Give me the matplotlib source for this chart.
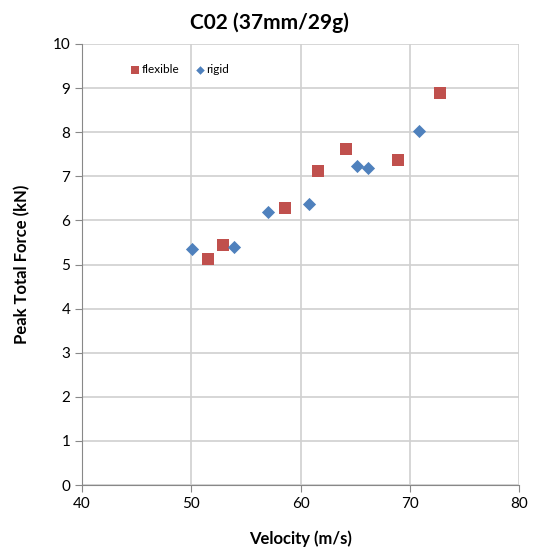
import matplotlib
matplotlib.use("Agg")
import matplotlib.pyplot as plt

plt.rcParams['font.family'] = ['Lato', 'DejaVu Sans']

flex_v = [51.5, 52.9, 58.6, 61.6, 64.2, 68.9, 72.8]
flex_f = [5.12, 5.45, 6.28, 7.12, 7.62, 7.36, 8.88]
rigid_v = [50.1, 53.9, 57.05, 60.8, 65.2, 66.2, 70.8]
rigid_f = [5.36, 5.40, 6.20, 6.38, 7.23, 7.19, 8.02]

fig = plt.figure(figsize=(5.34, 5.5), dpi=100)
ax = fig.add_axes([0.1536, 0.118, 0.8184, 0.802])

ax.scatter(flex_v, flex_f, marker='s', s=75, color='#C0504D', label='flexible', zorder=3, linewidths=0)
ax.scatter(rigid_v, rigid_f, marker='D', s=45, color='#4F81BD', label='rigid', zorder=3, linewidths=0)

ax.set_xlim(40, 80)
ax.set_ylim(0, 10)
ax.set_xticks(range(40, 81, 10))
ax.set_yticks(range(0, 11, 1))
ax.grid(True, color='#D0D0D0', linewidth=1.2)
ax.set_axisbelow(True)
for s in ['top', 'right']:
    ax.spines[s].set_visible(False)
for s in ['left', 'bottom']:
    ax.spines[s].set_color('#888888')
ax.tick_params(colors='#888888', labelcolor='black', labelsize=11, length=5)

fig.text(0.505, 0.958, 'C02 (37mm/29g)', ha='center', va='center', fontsize=15, fontweight='bold')
ax.set_xlabel('Velocity (m/s)', fontsize=12, fontweight='bold', labelpad=14)
ax.set_ylabel('Peak Total Force (kN)', fontsize=12, fontweight='bold', labelpad=16)

ax.legend(loc='upper left', bbox_to_anchor=(0.087, 0.978), ncol=2, frameon=False,
          fontsize=8.5, markerscale=0.65, handlelength=0.8, handletextpad=0.15,
          columnspacing=1.3)

fig.savefig('out.png', dpi=100)
